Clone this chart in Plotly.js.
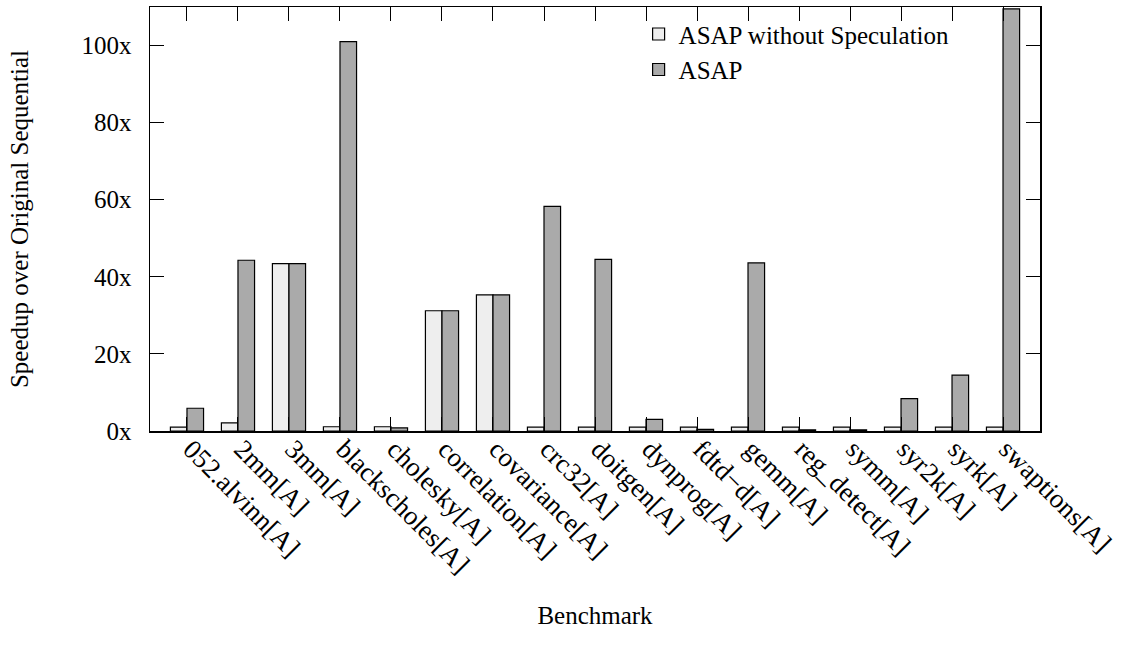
<!DOCTYPE html>
<html>
<head>
<meta charset="utf-8">
<script src="https://cdn.plot.ly/plotly-3.0.1.min.js"></script>
<style>html,body{margin:0;padding:0;background:#fff;}#chart{width:1123px;height:652px;}</style>
</head>
<body>
<div id="chart"></div>
<script>
const benchmarks = ["052.alvinn[A]","2mm[A]","3mm[A]","blackscholes[A]","cholesky[A]","correlation[A]","covariance[A]","crc32[A]","doitgen[A]","dynprog[A]","fdtd\u2212d[A]","gemm[A]","reg_detect[A]","symm[A]","syr2k[A]","syrk[A]","swaptions[A]"];
const noSpec = [1.0, 2.1, 43.4, 1.1, 1.1, 31.2, 35.3, 1.0, 1.0, 1.0, 1.0, 1.0, 1.0, 1.0, 1.0, 1.0, 1.0];
const asap   = [5.9, 44.3, 43.4, 101.0, 0.8, 31.2, 35.3, 58.3, 44.5, 3.0, 0.4, 43.6, 0.3, 0.3, 8.4, 14.5, 109.5];
const yTicks = [0, 20, 40, 60, 80, 100];
const yTickText = ["0x", "20x", "40x", "60x", "80x", "100x"];

const FAM = "Liberation Serif";
function f(s) { return {family: FAM, size: s || 25, color: "#000"}; }
const idx = benchmarks.map((_, i) => i);

const traces = [
  {type: "bar", name: "ASAP without Speculation", x: idx, y: noSpec,
   marker: {color: "#eeeeee", line: {color: "#000", width: 1.2}}},
  {type: "bar", name: "ASAP", x: idx, y: asap,
   marker: {color: "#aaaaaa", line: {color: "#000", width: 1.2}}}
];

const layout = {
  width: 1123, height: 652,
  margin: {l: 150, r: 83, t: 7, b: 221},
  paper_bgcolor: "#fff", plot_bgcolor: "#fff",
  font: f(),
  barmode: "group", bargap: 0.35, bargroupgap: 0,
  showlegend: true,
  legend: {x: 0.549, y: 0.99, xanchor: "left", yanchor: "top", bgcolor: "rgba(0,0,0,0)",
           font: f(), tracegroupgap: 0, itemwidth: 30},
  xaxis: {
    range: [-0.725, 16.725], tickmode: "array", tickvals: idx, ticktext: benchmarks,
    tickangle: 45, ticks: "inside", ticklen: 14, tickwidth: 1, tickcolor: "#000",
    showline: true, linecolor: "#000", linewidth: 1.5, mirror: "allticks",
    showgrid: false, zeroline: false, tickfont: f(27),
    ticklabelshift: 4, ticklabelstandoff: -10,
    title: {text: "Benchmark", font: f(), standoff: 28}, automargin: false
  },
  yaxis: {
    range: [0, 110], tickmode: "array", tickvals: yTicks, ticktext: yTickText,
    ticks: "inside", ticklen: 14, tickwidth: 1, tickcolor: "#000",
    showline: true, linecolor: "#000", linewidth: 1.5, mirror: "allticks",
    showgrid: false, zeroline: false, tickfont: f(), ticklabelstandoff: 12,
    title: {text: "Speedup over Original Sequential", font: f(), standoff: 46}, automargin: false
  }
};

Plotly.newPlot("chart", traces, layout, {displayModeBar: false, staticPlot: true});
</script>
</body>
</html>
